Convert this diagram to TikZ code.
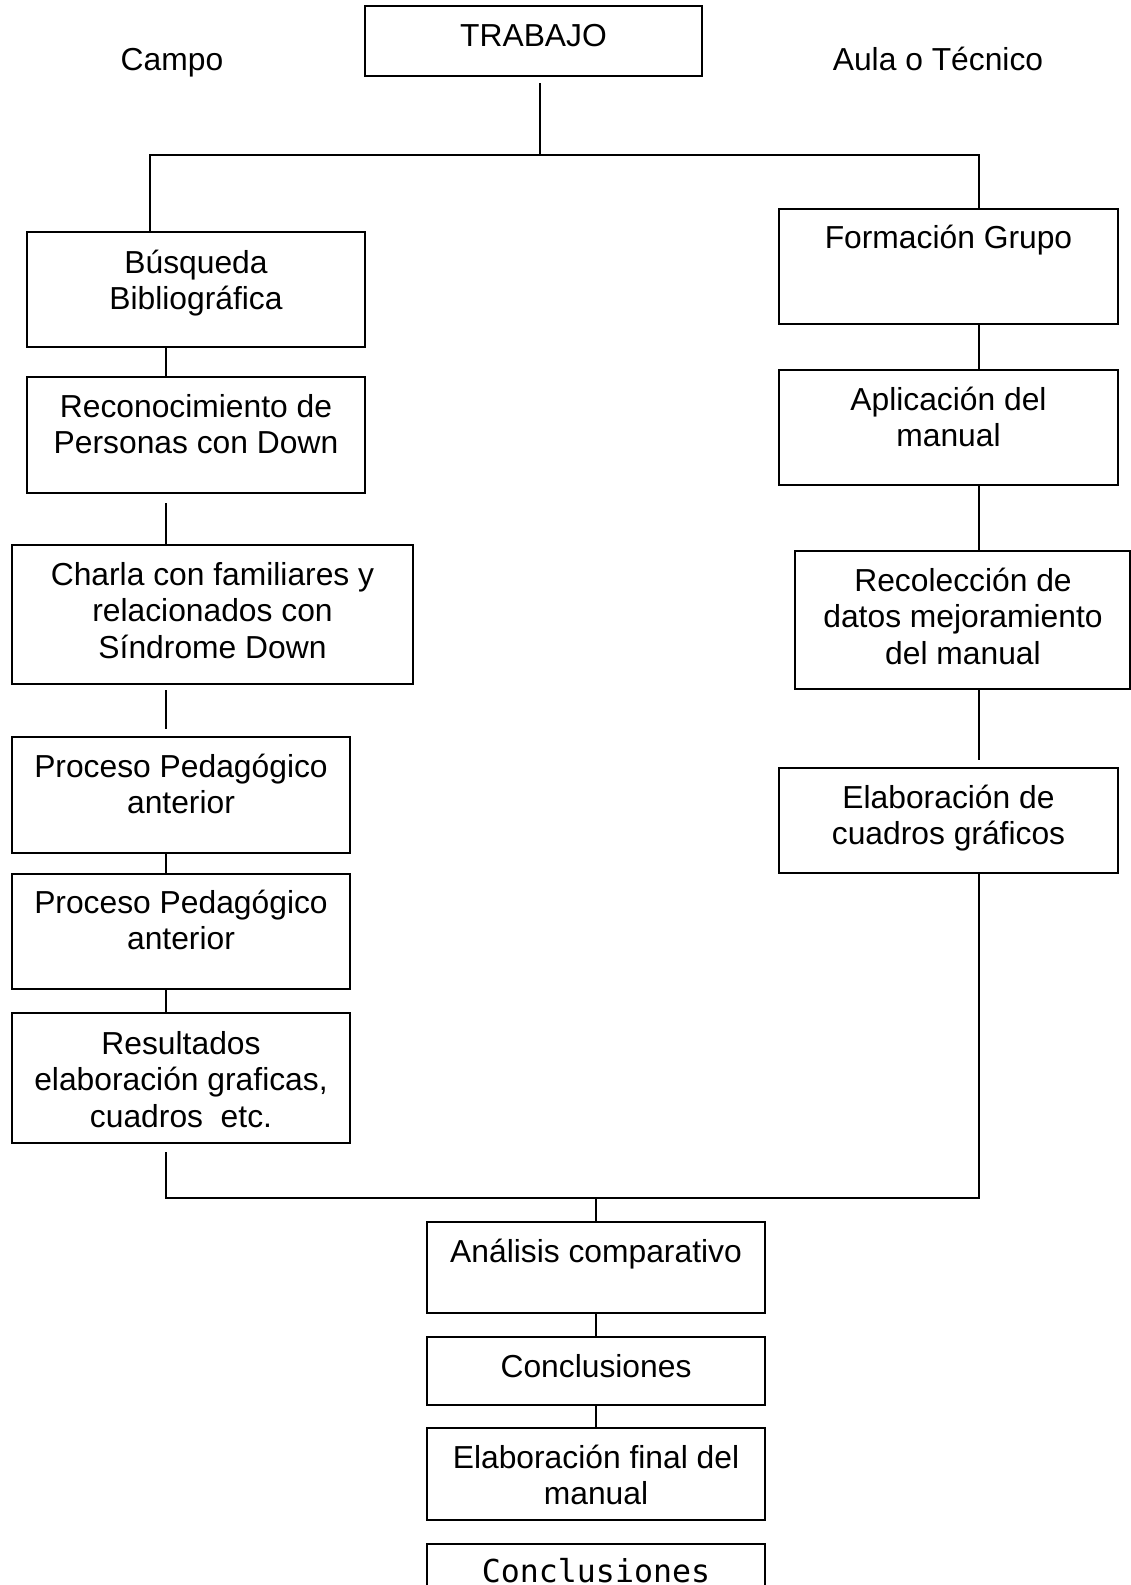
\documentclass[tikz,border=0pt]{standalone}
\usepackage{fontspec}
\setmainfont{Liberation Sans}
\newfontfamily\diagmono{DejaVu Sans Mono}
\usetikzlibrary{fit}
\newcommand{\mylines}[1]{\parbox[t]{420pt}{\centering #1}}
\begin{document}
\begin{tikzpicture}[x=1pt,y=-1pt,
  box/.style={draw, line width=2pt, inner sep=0pt},
  txt/.style={anchor=base, inner sep=0pt, font={\fontsize{31.8}{36.5}\selectfont}},
  monotxt/.style={anchor=base, inner sep=0pt, font={\diagmono\fontsize{31.6}{36}\selectfont}},
  conn/.style={line width=2pt}]
\useasboundingbox (0,0) rectangle (1131,1585);
\clip (0,0) rectangle (1131,1585);

% ---------- boxes ----------
\node[box, fit={(365,6) (702,76)}] (b0) {};
\node[box, fit={(27,232) (365,347)}] (b1) {};
\node[box, fit={(27,377) (365,493)}] (b2) {};
\node[box, fit={(12,545) (413,684)}] (b3) {};
\node[box, fit={(12,737) (350,853)}] (b4) {};
\node[box, fit={(12,874) (350,989)}] (b5) {};
\node[box, fit={(12,1013) (350,1143)}] (b6) {};
\node[box, fit={(779,209) (1118,324)}] (r1) {};
\node[box, fit={(779,370) (1118,485)}] (r2) {};
\node[box, fit={(795,551) (1130,689)}] (r3) {};
\node[box, fit={(779,768) (1118,873)}] (r4) {};
\node[box, fit={(427,1222) (765,1313)}] (c1) {};
\node[box, fit={(427,1337) (765,1405)}] (c2) {};
\node[box, fit={(427,1428) (765,1520)}] (c3) {};
\node[box, fit={(427,1544) (765,1640)}] (c4) {};

% ---------- texts ----------
\node[txt] (t0) at (533.5,46) {TRABAJO};
\node[txt] (lcampo) at (172,70) {Campo};
\node[txt] (laula) at (938,70) {Aula o T\'ecnico};
\node[txt] (t1) at (196,273) {\mylines{B\'usqueda\\Bibliogr\'afica}};
\node[txt] (t2) at (196,417) {\mylines{Reconocimiento de\\Personas con Down}};
\node[txt] (t3) at (212.5,585) {\mylines{Charla con familiares y\\relacionados con\\S\'indrome Down}};
\node[txt] (t4) at (181,777) {\mylines{Proceso Pedag\'ogico\\anterior}};
\node[txt] (t5) at (181,913) {\mylines{Proceso Pedag\'ogico\\anterior}};
\node[txt] (t6) at (181,1054) {\mylines{Resultados\\elaboraci\'on graficas,\\cuadros~~etc.}};
\node[txt] (s1) at (948.5,248) {Formaci\'on Grupo};
\node[txt] (s2) at (948.5,410) {\mylines{Aplicaci\'on del\\manual}};
\node[txt] (s3) at (963,591) {\mylines{Recolecci\'on de\\datos mejoramiento\\del manual}};
\node[txt] (s4) at (948.5,808) {\mylines{Elaboraci\'on de\\cuadros gr\'aficos}};
\node[txt] (u1) at (596,1262) {An\'alisis comparativo};
\node[txt] (u2) at (596,1377) {Conclusiones};
\node[txt] (u3) at (596,1468) {\mylines{Elaboraci\'on final del\\manual}};
\node[monotxt] (u4) at (596,1582) {Conclusiones};

% ---------- connector points ----------
\coordinate (c0s) at (540,83);
\coordinate (jl) at (150,155);
\coordinate (jr) at (979,155);
\coordinate (lx) at (166,0);
\coordinate (rx) at (979,0);
\coordinate (g2) at (166,503);
\coordinate (g3a) at (166,690);
\coordinate (g3b) at (166,729);
\coordinate (g6) at (166,1152);
\coordinate (jb) at (166,1198);
\coordinate (jbr) at (979,1198);
\coordinate (jc) at (596,1198);
\coordinate (g10) at (979,760);

% ---------- connectors ----------
\draw[conn] (c0s) -- (c0s |- jl);
\draw[conn] (b1.north -| jl) -- (jl) -- (jr) -- (r1.north -| jr);
\draw[conn] (b1.south -| lx) -- (b2.north -| lx);
\draw[conn] (g2) -- (b3.north -| lx);
\draw[conn] (g3a) -- (g3b);
\draw[conn] (b4.south -| lx) -- (b5.north -| lx);
\draw[conn] (b5.south -| lx) -- (b6.north -| lx);
\draw[conn] (g6) -- (jb) -- (jbr) -- (r4.south -| jbr);
\draw[conn] (r1.south -| rx) -- (r2.north -| rx);
\draw[conn] (r2.south -| rx) -- (r3.north -| rx);
\draw[conn] (r3.south -| rx) -- (g10);
\draw[conn] (jc) -- (c1.north -| jc);
\draw[conn] (c1.south -| jc) -- (c2.north -| jc);
\draw[conn] (c2.south -| jc) -- (c3.north -| jc);
\end{tikzpicture}
\end{document}
